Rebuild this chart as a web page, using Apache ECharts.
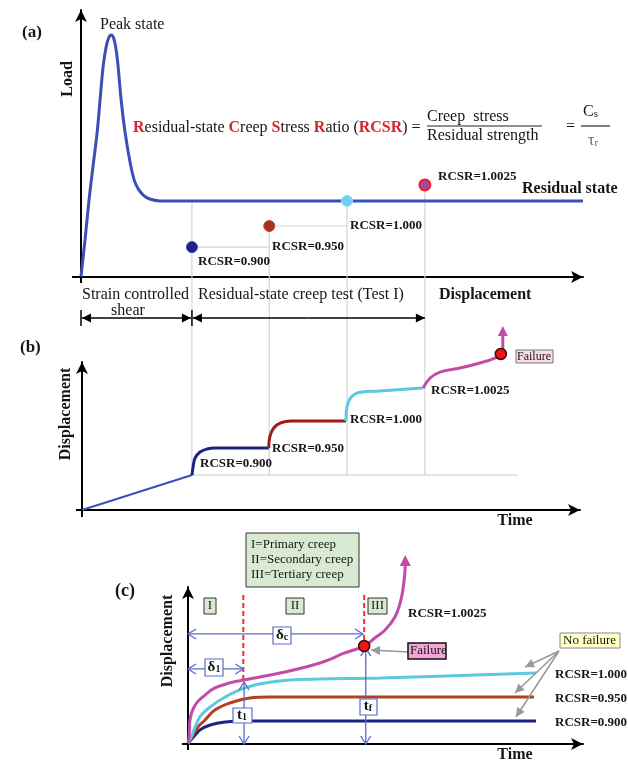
<!DOCTYPE html>
<html>
<head>
<meta charset="utf-8">
<script src="https://cdn.jsdelivr.net/npm/echarts@6/dist/echarts.min.js"></script>
<style>
  html, body { margin: 0; padding: 0; background: #fff; }
  #chart { width: 628px; height: 761px; }
</style>
</head>
<body>
<div id="chart"></div>
<script>
// ---------- (a) load vs. displacement in a ring-shear test ----------
const loadCurveA = [[0,0],[0.8,13.9],[1.6,28.8],[2.4,41.6],[3.2,53.9],[3.8,66.3],[4.4,78.7],[5.0,86.1],
  [5.5,89.5],[6.0,90.6],[6.5,89.5],[7.0,85.0],[7.4,78.7],[8.0,66.3],[8.8,53.9],[9.8,42.7],[10.6,36.3],
  [11.4,33.0],[12.4,30.7],[13.7,29.2],[15.7,28.5],[100,28.5]];
const residualLoad = 28.5;
const rcsrLabels = ['RCSR=0.900', 'RCSR=0.950', 'RCSR=1.000', 'RCSR=1.0025'];
const stageStart = [22.1, 37.5, 53.0, 68.5];      // displacement where each creep stage starts
const stageLoadA = [11.2, 19.1, 28.5, 34.5];      // applied creep load of each stage

// ---------- (b) displacement vs. time, multi-stage creep test ----------
const rampB = [[0,0],[22.1,23.6]];
const stageB0900 = [[22.1,23.6],[22.3,29.1],[22.7,35.1],[23.7,39.2],[25.1,41.2],[26.7,41.9],[37.5,41.9]];
const stageB0950 = [[37.5,41.9],[37.7,49.3],[38.5,55.4],[39.9,58.8],[41.9,60.1],[53.0,60.1]];
const stageB1000 = [[53.0,60.1],[53.2,69.6],[53.8,75.0],[54.8,78.4],[56.2,79.7],[59.8,80.4],[68.5,82.4]];
const stageB1025 = [[68.5,82.4],[69.9,89.2],[71.9,93.2],[75.9,95.9],[79.9,99.3],[82.9,102.7],[84.1,105.4],[84.5,109.0],[84.5,117.6]];
const failureB = [84.1, 105.4];
const baseB = 23.6;

// ---------- (c) creep curves of single stages ----------
const creepC0900 = [[0,0],[0.5,1.9],[1.8,5.7],[3.0,8.9],[5.6,12.1],[9.4,14.0],[14.4,14.6],[88.1,14.6]];
const creepC0950 = [[0,0],[1.0,4.5],[2.5,10.8],[4.3,15.3],[6.8,21.7],[10.6,26.1],[15.7,29.3],[20.8,29.9],[87.6,29.9]];
const creepC1000 = [[0,0],[1.0,5.7],[3.0,17.2],[5.6,23.6],[9.4,29.9],[14.4,35.7],[19.5,38.9],[25.8,40.8],[33.4,41.4],[48.6,42.0],[88.1,45.2]];
const creepC1025 = [[0,0],[0.3,5.7],[0.5,15.3],[1.8,24.8],[4.3,31.2],[6.8,35.7],[10.6,38.9],[14.2,40.8],[23.3,45.2],
  [33.4,51.6],[39.7,58.0],[44.6,62.4],[47.3,67.5],[49.9,72.6],[52.4,80.9],[53.7,89.8],[54.4,98.1],[54.9,108.9],[55.0,114.0]];
const failureC = [44.6, 62.4];
const t1C = 14.0;
const stageLabelsC = ['I', 'II', 'III'];
const legendC = ['I=Primary creep', 'II=Secondary creep', 'III=Tertiary creep'];

const FONT = "'Liberation Serif', 'Times New Roman', serif";
const C_A = '#3b4fb8', NAVY = '#1d2383', DRED = '#9e1b1b', RED_C = '#b3401c',
      CYAN = '#5cc9e0', MAG = '#c24ba8', ANNO = '#5b6bd0', GUIDE = '#d4d4d4';

const chart = echarts.init(document.getElementById('chart'), null, { renderer: 'canvas' });

function axis(gi, max) {
  return {
    type: 'value', gridIndex: gi, min: 0, max: max,
    axisLine: { show: true, onZero: false, symbol: ['none', 'arrow'], symbolSize: [9, 12],
                lineStyle: { color: '#000', width: 2 } },
    axisTick: { show: false }, axisLabel: { show: false }, splitLine: { show: false }
  };
}
function curve(gi, data, color, width) {
  return { type: 'line', xAxisIndex: gi, yAxisIndex: gi, data: data, smooth: 0.4, showSymbol: false,
           clip: false, silent: true, lineStyle: { color: color, width: width || 3 }, z: 3 };
}
function dot(gi, pt, fill, border, bw) {
  return { type: 'scatter', xAxisIndex: gi, yAxisIndex: gi, data: [pt], symbolSize: 11, clip: false, silent: true,
           itemStyle: { color: fill, borderColor: border, borderWidth: bw || 1, opacity: 1 }, z: 15 };
}

const option = {
  animation: false,
  backgroundColor: '#fff',
  grid: [
    { left: 81, top: 10, width: 502, height: 267 },
    { left: 82, top: 362, width: 498, height: 148 },
    { left: 188, top: 587, width: 395, height: 157 }
  ],
  xAxis: [axis(0, 100), axis(1, 100), axis(2, 100)],
  yAxis: [axis(0, 100), axis(1, 100), axis(2, 100)],
  series: [
    curve(0, loadCurveA, C_A, 3),
    dot(0, [stageStart[0], stageLoadA[0]], NAVY, '#3a44b0'),
    dot(0, [stageStart[1], stageLoadA[1]], '#a5321f', '#c04a3a'),
    dot(0, [stageStart[2], stageLoadA[2]], '#6dd0ee', '#9adcf2'),
    dot(0, [stageStart[3], stageLoadA[3]], '#a8489a', '#ee1c3c', 2),

    curve(1, rampB, C_A, 2),
    curve(1, stageB0900, NAVY, 3),
    curve(1, stageB0950, DRED, 3),
    curve(1, stageB1000, CYAN, 3),
    curve(1, stageB1025, MAG, 3),
    dot(1, failureB, '#f01414', '#3a0a0a', 1.5),

    curve(2, creepC0900, NAVY, 3),
    curve(2, creepC0950, RED_C, 3),
    curve(2, creepC1000, CYAN, 3),
    curve(2, creepC1025, MAG, 3),
    dot(2, failureC, '#f01414', '#3a0a0a', 1.5)
  ]
};
chart.setOption(option);

// ---------- annotations ----------
const P = (gi, pt) => chart.convertToPixel({ gridIndex: gi }, pt);
const G = [];
function txt(x, y, text, size, o) {
  o = o || {};
  G.push({ type: 'text', x: x, y: y, rotation: o.rot || 0, z: 30,
    style: { text: text, fontSize: size, fontFamily: FONT, fontWeight: o.bold ? 'bold' : 'normal',
             fill: o.color || '#161616', align: o.align || 'left', verticalAlign: 'middle', rich: o.rich } });
}
function seg(p1, p2, color, width, dash, z) {
  G.push({ type: 'line', z: z || 1, shape: { x1: p1[0], y1: p1[1], x2: p2[0], y2: p2[1] },
           style: { stroke: color, lineWidth: width, lineDash: dash || null } });
}
function headPts(tip, from, len, half) {
  const dx = tip[0] - from[0], dy = tip[1] - from[1], d = Math.hypot(dx, dy);
  const ux = dx / d, uy = dy / d, bx = tip[0] - ux * len, by = tip[1] - uy * len;
  return [[bx - uy * half, by + ux * half], tip, [bx + uy * half, by - ux * half]];
}
function solidArrow(from, tip, color, width, len, half, z) {
  seg(from, tip, color, width, null, z || 10);
  G.push({ type: 'polygon', z: z || 10, shape: { points: headPts(tip, from, len, half) }, style: { fill: color } });
}
function openHead(tip, from, color) {
  G.push({ type: 'polyline', z: 10, shape: { points: headPts(tip, from, 8, 5) },
           style: { stroke: color, lineWidth: 1.3, fill: null } });
}
function dblOpen(a, b, color) {
  seg(a, b, color, 1.3, null, 10);
  openHead(a, b, color); openHead(b, a, color);
}
function rect(x1, y1, x2, y2, fill, stroke, lw) {
  G.push({ type: 'rect', z: 20, shape: { x: x1, y: y1, width: x2 - x1, height: y2 - y1 },
           style: { fill: fill, stroke: stroke, lineWidth: lw || 1 } });
}

// short overhang of each axis line past the origin
[[0, 9, 6], [1, 6, 7], [2, 6, 6]].forEach(([gi, dx, dy]) => {
  const o = P(gi, [0, 0]);
  seg([o[0] - dx, o[1]], o, '#000', 2, null, 4);
  seg(o, [o[0], o[1] + dy], '#000', 2, null, 4);
});

// guide lines linking (a) and (b)
const yBaseB = P(1, [0, baseB])[1];
stageStart.forEach((x, i) => {
  const top = P(0, [x, i === 0 ? residualLoad : stageLoadA[i]]);
  seg(top, [top[0], yBaseB], GUIDE, 1.2, null, 1);
});
seg(P(0, [stageStart[0], stageLoadA[0]]), P(0, [stageStart[1], stageLoadA[0]]), GUIDE, 1.2);
seg(P(0, [stageStart[1], stageLoadA[1]]), P(0, [stageStart[2], stageLoadA[1]]), GUIDE, 1.2);
seg(P(1, [stageStart[0], baseB]), P(1, [87.6, baseB]), GUIDE, 1.2);

// ---- panel (a) texts ----
txt(22, 33, '(a)', 17, { bold: true });
txt(100, 25, 'Peak state', 16);
txt(68, 79, 'Load', 16, { bold: true, rot: Math.PI / 2, align: 'center' });
const rr = { r: { fill: '#d7262c', fontWeight: 'bold', fontSize: 16, fontFamily: FONT } };
txt(133, 128, '{r|R}esidual-state {r|C}reep {r|S}tress {r|R}atio ({r|RCSR}) =', 16, { rich: rr });
txt(427, 117, 'Creep  stress', 16);
txt(427, 136, 'Residual strength', 16);
seg([427, 126], [542, 126], '#222', 1.2, null, 30);
txt(566, 127, '=', 16);
txt(583, 112, 'C{s|s}', 16, { rich: { s: { fontSize: 11, fontFamily: FONT, fill: '#161616', verticalAlign: 'bottom', lineHeight: 11 } } });
seg([581, 126], [610, 126], '#222', 1.2, null, 30);
txt(588, 141, 'τ{s|r}', 16, { color: '#4a6aa0', rich: { s: { fontSize: 11, fontFamily: FONT, fill: '#4a6aa0', verticalAlign: 'bottom', lineHeight: 11 } } });
txt(438, 177, rcsrLabels[3], 13, { bold: true });
txt(522, 189, 'Residual state', 16, { bold: true });
txt(350, 226, rcsrLabels[2], 13, { bold: true });
txt(272, 247, rcsrLabels[1], 13, { bold: true });
txt(198, 262, rcsrLabels[0], 13, { bold: true });
txt(82, 295, 'Strain controlled', 16);
txt(128, 311, 'shear', 16, { align: 'center' });
txt(198, 295, 'Residual-state creep test (Test I)', 16);
txt(439, 295, 'Displacement', 16, { bold: true });
// stage extent arrows
const xa0 = P(0, [0, 0])[0], xa1 = P(0, [stageStart[0], 0])[0], xa2 = P(0, [stageStart[3], 0])[0];
seg([xa0, 310], [xa0, 326], '#000', 1.5, null, 12);
seg([xa1, 310], [xa1, 326], '#000', 1.5, null, 12);
solidArrow([(xa0 + xa1) / 2, 318], [xa0 + 1, 318], '#000', 1.3, 9, 4.5, 12);
solidArrow([(xa0 + xa1) / 2, 318], [xa1 - 1, 318], '#000', 1.3, 9, 4.5, 12);
solidArrow([(xa1 + xa2) / 2, 318], [xa1 + 1, 318], '#000', 1.3, 9, 4.5, 12);
solidArrow([(xa1 + xa2) / 2, 318], [xa2, 318], '#000', 1.3, 9, 4.5, 12);

// ---- panel (b) ----
txt(20, 348, '(b)', 17, { bold: true });
txt(66, 414, 'Displacement', 16, { bold: true, rot: Math.PI / 2, align: 'center' });
txt(200, 464, rcsrLabels[0], 13, { bold: true });
txt(272, 449, rcsrLabels[1], 13, { bold: true });
txt(350, 420, rcsrLabels[2], 13, { bold: true });
txt(431, 391, rcsrLabels[3], 13, { bold: true });
const tipB = P(1, [84.5, 124.3]), baseArrowB = P(1, [84.5, 117.6]);
G.push({ type: 'polygon', z: 10, shape: { points: headPts(tipB, baseArrowB, 10, 5) }, style: { fill: MAG } });
rect(516, 350, 553, 363, '#fadbe6', '#777', 1);
txt(517, 357, 'Failure', 12);
txt(515, 521, 'Time', 16, { bold: true, align: 'center' });

// ---- panel (c) ----
txt(115, 591, '(c)', 18, { bold: true });
txt(168, 641, 'Displacement', 16, { bold: true, rot: Math.PI / 2, align: 'center' });
rect(246, 533, 359, 587, '#d8ebd2', '#333', 1);
legendC.forEach((s, i) => txt(251, 545 + i * 15, s, 13));
const boxX = [[204, 216], [286, 304], [368, 387]];
stageLabelsC.forEach((s, i) => {
  rect(boxX[i][0], 598, boxX[i][1], 614, '#d8ebd2', '#333', 1);
  txt((boxX[i][0] + boxX[i][1]) / 2, 606, s, 13, { align: 'center' });
});
// phase boundaries
seg(P(2, [t1C, 94.9]), P(2, [t1C, 40.8]), '#ff2a2a', 2, [5, 3], 8);
seg(P(2, [failureC[0], 94.9]), P(2, [failureC[0], failureC[1]]), '#ff2a2a', 2, [5, 3], 8);
// magenta arrow head
const tipC = P(2, [55.0, 120.4]), baseC = P(2, [55.0, 114.0]);
G.push({ type: 'polygon', z: 10, shape: { points: headPts(tipC, baseC, 11, 5.5) }, style: { fill: MAG } });
// dimension arrows
const dcY = 70.1, d1Y = 47.8;
dblOpen(P(2, [0, dcY]), P(2, [failureC[0] - 0.3, dcY]), ANNO);
dblOpen(P(2, [0, d1Y]), P(2, [t1C, d1Y]), ANNO);
dblOpen(P(2, [t1C + 0.2, 39.5]), P(2, [t1C + 0.2, 0]), ANNO);
dblOpen(P(2, [failureC[0] + 0.4, 61.1]), P(2, [failureC[0] + 0.4, 0]), ANNO);
const sub = { s: { fontSize: 10, fontWeight: 'bold', fontFamily: FONT, fill: '#161616', verticalAlign: 'bottom', lineHeight: 12 } };
rect(273, 627, 291, 644, '#fff', ANNO, 1.2); txt(282, 635, 'δ{s|c}', 15, { bold: true, align: 'center', rich: sub });
rect(205, 659, 223, 676, '#fff', ANNO, 1.2); txt(214, 667, 'δ{s|1}', 15, { bold: true, align: 'center', rich: sub });
rect(233, 708, 252, 723, '#fff', ANNO, 1.2); txt(242, 715, 't{s|1}', 15, { bold: true, align: 'center', rich: sub });
rect(360, 699, 377, 715, '#fff', ANNO, 1.2); txt(368, 706, 't{s|f}', 15, { bold: true, align: 'center', rich: sub });
txt(408, 614, rcsrLabels[3], 13, { bold: true });
rect(408, 643, 446, 659, '#f2a6d6', '#111', 1.5);
txt(410, 651, 'Failure', 13);
solidArrow([408, 652], [371, 650], '#999', 1.5, 9, 4.5, 9);
rect(560, 633, 620, 648, '#ffffc8', '#888', 1);
txt(563, 641, 'No failure', 13);
solidArrow([559, 651], [525, 667], '#999', 1.5, 9, 4.5, 9);
solidArrow([559, 651], [515, 693], '#999', 1.5, 9, 4.5, 9);
solidArrow([559, 651], [516, 717], '#999', 1.5, 9, 4.5, 9);
txt(555, 675, rcsrLabels[2], 13, { bold: true });
txt(555, 699, rcsrLabels[1], 13, { bold: true });
txt(555, 723, rcsrLabels[0], 13, { bold: true });
txt(515, 755, 'Time', 16, { bold: true, align: 'center' });

chart.setOption({ graphic: G });
</script>
</body>
</html>
